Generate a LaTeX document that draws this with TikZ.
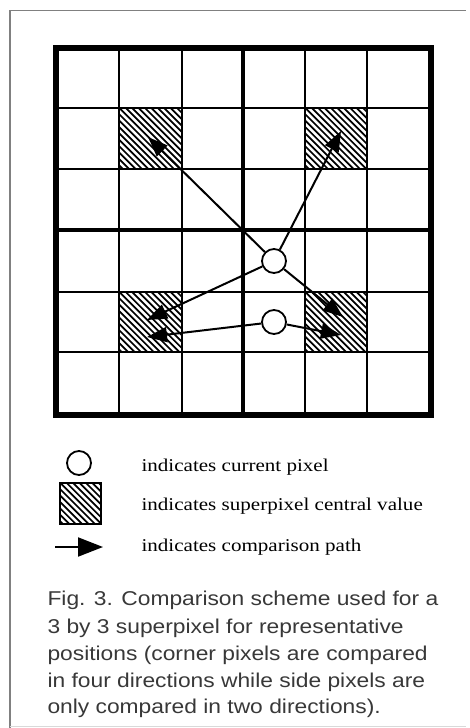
\documentclass[tikz,border=0pt]{standalone}
\usepackage{fontspec}
\setmainfont{Liberation Serif}
\setsansfont{Liberation Sans}
\newfontfamily\legfont[FakeStretch=1.17]{Liberation Serif}
\newfontfamily\capfont[FakeStretch=1.14]{Liberation Sans}
\usetikzlibrary{arrows.meta}
\newcommand{\hatchcell}[4]{%
  \begin{scope}
    \clip (#1,#2) rectangle (#3,#4);
    \foreach \i in {0,...,22} {
      \pgfmathsetmacro\kk{-70+\i*6.4}
      \draw[hatchline] ({#1+\kk},#2) -- ({#1+\kk+75},{#2+75});
    }
  \end{scope}}
\begin{document}
\begin{tikzpicture}[x=1pt,y=-1pt,
  thingrid/.style={line width=2.2pt},
  thickgrid/.style={line width=4.5pt},
  outergrid/.style={line width=5.5pt},
  hatchline/.style={line width=1.7pt},
  pixel/.style={circle, draw, line width=1.8pt, fill=white, minimum size=24pt, inner sep=0pt},
  cmp/.style={line width=2pt, -{Triangle[length=20pt,width=15pt]}},
  legendtext/.style={anchor=base west, font=\legfont\fontsize{18}{20}\selectfont},
  captext/.style={anchor=base west, font=\capfont\fontsize{20}{22}\selectfont, text=black!78},
  framel/.style={black!50, line width=1.2pt}
]
\useasboundingbox (0,0) rectangle (469,728);
% frame
\draw[framel] (10,728) -- (10,10.5) -- (466,10.5);
\draw[black!15, line width=1pt] (10,726) -- (466,726);
% hatched cells
\hatchcell{119}{108}{182}{169}
\hatchcell{305}{108}{367}{169}
\hatchcell{119}{292}{182}{352}
\hatchcell{305}{292}{367}{352}
% grid
\foreach \x in {119,182,305,367} \draw[thingrid] (\x,48) -- (\x,415);
\foreach \y in {108,169,292,352} \draw[thingrid] (56,\y) -- (431,\y);
\draw[thickgrid] (243,48) -- (243,415);
\draw[thickgrid] (56,230) -- (431,230);
\draw[outergrid] (56,48) rectangle (431,415);
% pixels
\node[pixel] (c1) at (274,261) {};
\node[pixel] (c2) at (274,322) {};
\coordinate (ul) at (148,137);
\coordinate (ur) at (341,131);
\coordinate (ll) at (147,320);
\coordinate (lr) at (343,317);
\coordinate (ll2) at (147,337);
\coordinate (lr2) at (341,335);
\draw[cmp] (c1) -- (ul);
\draw[cmp] (c1) -- (ur);
\draw[cmp] (c1) -- (ll);
\draw[cmp] (c1) -- (lr);
\draw[cmp] (c2) -- (ll2);
\draw[cmp] (c2) -- (lr2);
% legend
\node[pixel] (lc) at (79,463) {};
\hatchcell{60}{483}{101}{524}
\draw[line width=2.5pt] (60,483) rectangle (101,524);
\coordinate (la0) at (55,547);
\coordinate (la1) at (103,547);
\draw[line width=2pt,-{Triangle[length=25pt,width=19pt]}] (la0) -- (la1);
\node[legendtext] (t1) at (138,471) {indicates current pixel};
\node[legendtext] (t2) at (138,510) {indicates superpixel central value};
\node[legendtext] (t3) at (138,551) {indicates comparison path};
% caption
\node[captext] (k1) at (44,605) {Fig. 3. Comparison scheme used for a};
\node[captext] (k2) at (44,633) {3 by 3 superpixel for representative};
\node[captext] (k3) at (44,660) {positions (corner pixels are compared};
\node[captext] (k4) at (44,687) {in four directions while side pixels are};
\node[captext] (k5) at (44,713) {only compared in two directions).};
\end{tikzpicture}
\end{document}
